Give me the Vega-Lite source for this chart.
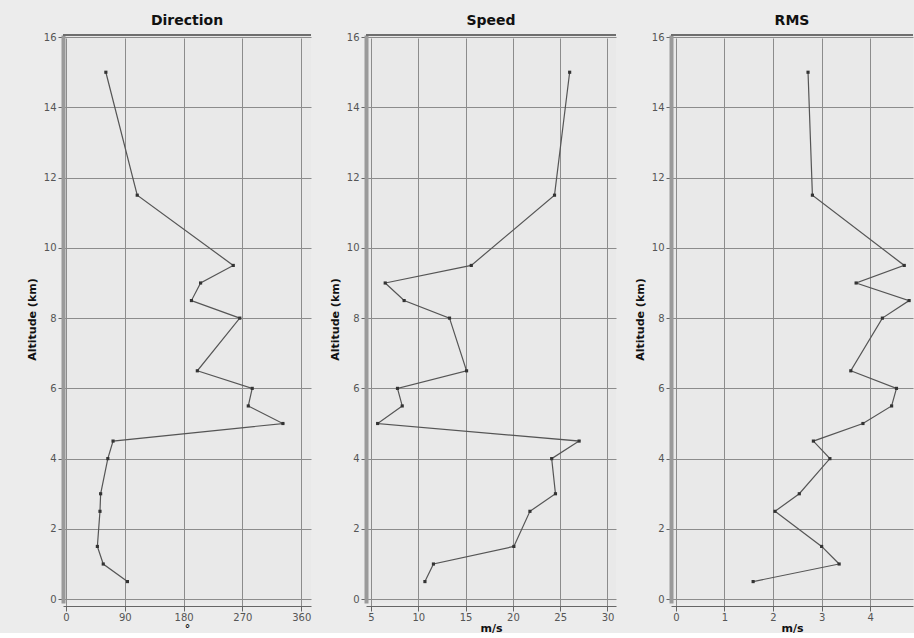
{
  "$schema": "https://vega.github.io/schema/vega-lite/v6.json",
  "background": "#ececec",
  "padding": {"left": 26, "top": 14, "right": 0, "bottom": 0},
  "datasets": {
    "prof": [
      {"alt": 0.5, "dir": 94, "spd": 10.7, "rms": 1.59},
      {"alt": 1.0, "dir": 57, "spd": 11.6, "rms": 3.36},
      {"alt": 1.5, "dir": 48, "spd": 20.1, "rms": 3.0},
      {"alt": 2.5, "dir": 52, "spd": 21.8, "rms": 2.04},
      {"alt": 3.0, "dir": 53, "spd": 24.5, "rms": 2.54},
      {"alt": 4.0, "dir": 64, "spd": 24.1, "rms": 3.17},
      {"alt": 4.5, "dir": 72, "spd": 27.0, "rms": 2.83},
      {"alt": 5.0, "dir": 332, "spd": 5.7, "rms": 3.85},
      {"alt": 5.5, "dir": 279, "spd": 8.3, "rms": 4.44},
      {"alt": 6.0, "dir": 285, "spd": 7.8, "rms": 4.54},
      {"alt": 6.5, "dir": 201, "spd": 15.1, "rms": 3.6},
      {"alt": 8.0, "dir": 266, "spd": 13.3, "rms": 4.25},
      {"alt": 8.5, "dir": 192, "spd": 8.5, "rms": 4.8},
      {"alt": 9.0, "dir": 206, "spd": 6.5, "rms": 3.71},
      {"alt": 9.5, "dir": 256, "spd": 15.6, "rms": 4.7},
      {"alt": 11.5, "dir": 109, "spd": 24.4, "rms": 2.81},
      {"alt": 15.0, "dir": 61, "spd": 26.0, "rms": 2.72}
    ]
  },
  "data": {"name": "prof"},
  "spacing": 17,
  "config": {
    "font": "DejaVu Sans",
    "view": {"stroke": null, "fill": "#e9e9e9"},
    "title": {"fontSize": 14, "fontWeight": "bold", "color": "#111", "offset": 4, "font": "DejaVu Sans"},
    "axis": {
      "labelFont": "DejaVu Sans", "labelFontSize": 10, "labelColor": "#555",
      "titleFont": "DejaVu Sans", "titleFontSize": 11, "titleFontWeight": "bold", "titleColor": "#111",
      "gridColor": "#8c8c8c", "gridOpacity": 1, "gridWidth": 1,
      "tickColor": "#666", "tickSize": 5, "domainColor": "#666", "titlePadding": 4
    },
    "axisX": {"offset": 3, "labelPadding": 1, "titlePadding": 0},
    "axisY": {"domainWidth": 4, "domainColor": "#9a9a9a", "titlePadding": 6}
  },
  "hconcat": [
    {
      "title": "Direction",
      "width": 248, "height": 568,
      "layer": [
        {
          "mark": {"type": "line", "color": "#555", "strokeWidth": 1.2},
          "encoding": {
            "x": {"field": "dir", "type": "quantitative", "scale": {"domain": [-4.6, 375], "nice": false, "zero": false}, "axis": {"title": "°", "values": [0, 90, 180, 270, 360], "grid": true}},
            "y": {"field": "alt", "type": "quantitative", "scale": {"domain": [-0.11, 16.06], "nice": false}, "axis": {"title": "Altitude (km)", "values": [0, 2, 4, 6, 8, 10, 12, 14, 16], "grid": true}},
            "order": {"field": "alt"}
          }
        },
        {
          "mark": {"type": "point", "shape": "square", "filled": true, "size": 10, "color": "#333", "opacity": 1},
          "encoding": {
            "x": {"field": "dir", "type": "quantitative"},
            "y": {"field": "alt", "type": "quantitative"}
          }
        },
        {
          "mark": {"type": "rule", "color": "#6e6e6e", "strokeWidth": 2},
          "encoding": {"y": {"datum": 16.06, "type": "quantitative"}}
        }
      ]
    },
    {
      "title": "Speed",
      "width": 250, "height": 568,
      "layer": [
        {
          "mark": {"type": "line", "color": "#555", "strokeWidth": 1.2},
          "encoding": {
            "x": {"field": "spd", "type": "quantitative", "scale": {"domain": [4.47, 30.9], "nice": false, "zero": false}, "axis": {"title": "m/s", "values": [5, 10, 15, 20, 25, 30], "grid": true}},
            "y": {"field": "alt", "type": "quantitative", "scale": {"domain": [-0.11, 16.06], "nice": false}, "axis": {"title": "Altitude (km)", "values": [0, 2, 4, 6, 8, 10, 12, 14, 16], "grid": true}},
            "order": {"field": "alt"}
          }
        },
        {
          "mark": {"type": "point", "shape": "square", "filled": true, "size": 10, "color": "#333", "opacity": 1},
          "encoding": {
            "x": {"field": "spd", "type": "quantitative"},
            "y": {"field": "alt", "type": "quantitative"}
          }
        },
        {
          "mark": {"type": "rule", "color": "#6e6e6e", "strokeWidth": 2},
          "encoding": {"y": {"datum": 16.06, "type": "quantitative"}}
        }
      ]
    },
    {
      "title": "RMS",
      "width": 242, "height": 568,
      "layer": [
        {
          "mark": {"type": "line", "color": "#555", "strokeWidth": 1.2},
          "encoding": {
            "x": {"field": "rms", "type": "quantitative", "scale": {"domain": [-0.1, 4.88], "nice": false, "zero": false}, "axis": {"title": "m/s", "values": [0, 1, 2, 3, 4], "grid": true}},
            "y": {"field": "alt", "type": "quantitative", "scale": {"domain": [-0.11, 16.06], "nice": false}, "axis": {"title": "Altitude (km)", "values": [0, 2, 4, 6, 8, 10, 12, 14, 16], "grid": true}},
            "order": {"field": "alt"}
          }
        },
        {
          "mark": {"type": "point", "shape": "square", "filled": true, "size": 10, "color": "#333", "opacity": 1},
          "encoding": {
            "x": {"field": "rms", "type": "quantitative"},
            "y": {"field": "alt", "type": "quantitative"}
          }
        },
        {
          "mark": {"type": "rule", "color": "#6e6e6e", "strokeWidth": 2},
          "encoding": {"y": {"datum": 16.06, "type": "quantitative"}}
        }
      ]
    }
  ]
}
